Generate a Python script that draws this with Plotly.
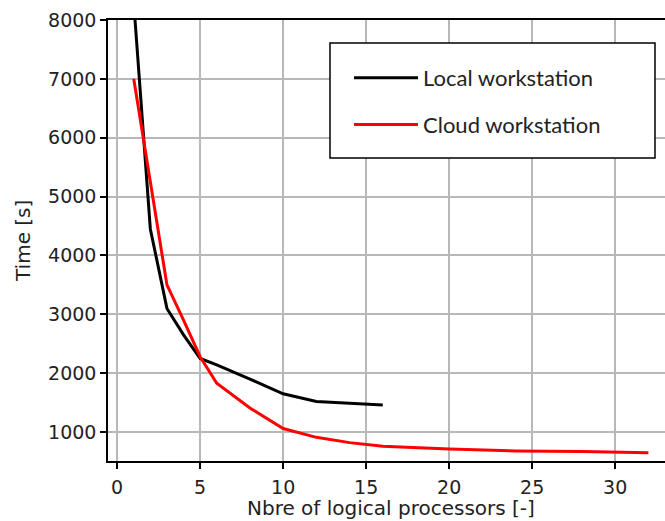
import plotly.graph_objects as go

# Run time versus number of logical processors
local_procs = [1, 2, 3, 4, 5, 6, 8, 10, 12, 16]
local_time = [8300, 4450, 3100, 2650, 2250, 2140, 1900, 1650, 1520, 1460]

cloud_procs = [1, 2, 3, 4, 5, 6, 8, 10, 12, 14, 16, 20, 24, 28, 32]
cloud_time = [7000, 5250, 3500, 2900, 2280, 1830, 1410, 1060, 910, 820, 760, 710, 680, 670, 650]

x_ticks = [0, 5, 10, 15, 20, 25, 30]
y_ticks = [1000, 2000, 3000, 4000, 5000, 6000, 7000, 8000]

W, H = 665, 521
ML, MR, MT, MB = 108, 0, 20, 60
PW, PH = W - ML - MR, H - MT - MB


def px_x(p):
    return (p - ML) / PW


def px_y(p):
    return 1 - (p - MT) / PH


fig = go.Figure()
fig.add_trace(go.Scatter(x=local_procs, y=local_time, mode="lines",
                         name="Local workstation", legendgroup="a",
                         line=dict(color="black", width=3)))
fig.add_trace(go.Scatter(x=cloud_procs, y=cloud_time, mode="lines",
                         name="Cloud workstation", legendgroup="b",
                         line=dict(color="#ff0000", width=3)))

tick_font = dict(family="DejaVu Sans", size=19, color="#222222")
title_font = dict(family="DejaVu Sans", size=20, color="#222222")
grid = "#b8b8b8"

axis_common = dict(ticks="outside", ticklen=6, tickwidth=1.5, tickcolor="black",
                   showline=True, linecolor="black", linewidth=1.5,
                   showgrid=True, gridcolor=grid, gridwidth=1.5, zeroline=False,
                   tickfont=tick_font)

fig.update_layout(
    width=W, height=H,
    margin=dict(l=ML, r=MR, t=MT, b=MB, pad=0),
    paper_bgcolor="white", plot_bgcolor="white",
    showlegend=True,
    legend=dict(x=px_x(349), y=px_y(57),
                xanchor="left", yanchor="top",
                bgcolor="rgba(0,0,0,0)", borderwidth=0,
                font=dict(family="Lato", size=22, color="#222222"),
                itemwidth=64, tracegroupgap=15, traceorder="grouped"),
    xaxis=dict(range=[-0.55, 33.0], tickvals=x_ticks, mirror=True,
               ticklabelstandoff=2, **axis_common),
    yaxis=dict(range=[508, 8000], tickvals=y_ticks, mirror=False,
               **axis_common),
    shapes=[dict(type="rect", xref="paper", yref="paper",
                 x0=px_x(330), x1=px_x(655), y0=px_y(158), y1=px_y(43),
                 fillcolor="white", line=dict(color="black", width=1.5),
                 layer="above")],
    annotations=[
        dict(text="Nbre of logical processors [-]", xref="paper", yref="paper",
             x=px_x(391), y=px_y(508), xanchor="center", yanchor="middle",
             showarrow=False, font=title_font),
        dict(text="Time [s]", xref="paper", yref="paper",
             x=px_x(23), y=px_y(241), textangle=-90,
             xanchor="center", yanchor="middle", showarrow=False,
             font=title_font),
    ],
)

fig.write_html("out.html")
